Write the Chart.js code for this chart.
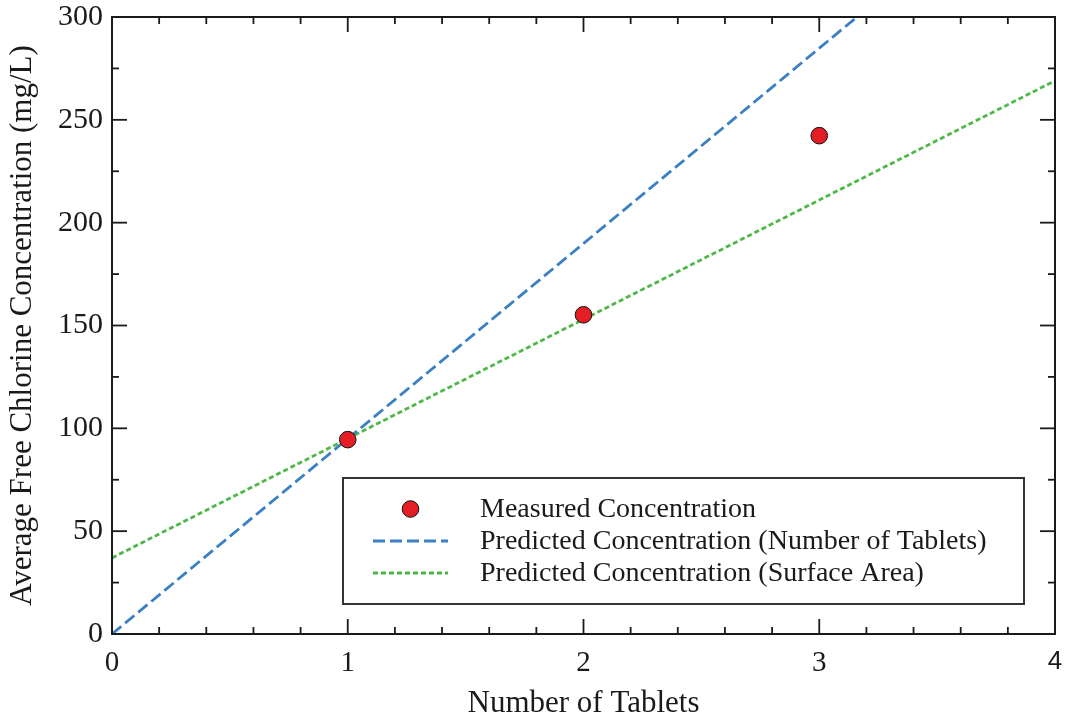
<!DOCTYPE html>
<html>
<head>
<meta charset="utf-8">
<script src="https://cdn.jsdelivr.net/npm/chart.js@4/dist/chart.umd.min.js"></script>
<style>
  html, body { margin: 0; padding: 0; background: #fff; }
  #wrap { width: 1065px; height: 717px; }
  canvas { display: block; background: #fff; }
</style>
</head>
<body>
<div id="wrap"><canvas id="c" width="1065" height="717"></canvas></div>
<script>
// Measured chlorine levels per number of tablets
const tabletCounts = [1, 2, 3];
const measuredConc = [94.5, 155.2, 242.3];

// Model predictions (line end points)
const tabletModelX = [0, 3.16];
const tabletModelY = [0, 300];
const areaModelX = [0, 4];
const areaModelY = [37, 269];

// Axis ticks and labels
const xTickValues = [0, 1, 2, 3, 4];
const yTickValues = [0, 50, 100, 150, 200, 250, 300];
const seriesNames = [
  'Measured Concentration',
  'Predicted Concentration (Number of Tablets)',
  'Predicted Concentration (Surface Area)'
];
const xAxisTitle = 'Number of Tablets';
const yAxisTitle = 'Average Free Chlorine Concentration (mg/L)';

const SERIF = "'Liberation Serif', 'Times New Roman', serif";
const SANS = "'Liberation Sans', Arial, sans-serif";
const INK = '#1a1a1a';

Chart.defaults.font.family = SERIF;
Chart.defaults.color = INK;

const toPoints = (xs, ys) => xs.map((v, i) => ({ x: v, y: ys[i] }));

// Inward major/minor tick marks on all four sides plus the plot frame
const frameTicks = {
  id: 'frameTicks',
  afterDraw(chart) {
    const { ctx, chartArea: a, scales: { x, y } } = chart;
    const seg = (x1, y1, x2, y2) => { ctx.beginPath(); ctx.moveTo(x1, y1); ctx.lineTo(x2, y2); ctx.stroke(); };
    ctx.save();
    ctx.strokeStyle = INK;
    ctx.lineWidth = 1.8;
    const xMinor = 0.2, yMinor = 25;
    for (let i = 0; i * xMinor <= x.max + 1e-9; i++) {
      const px = x.getPixelForValue(i * xMinor);
      const len = i % 5 === 0 ? 15 : 7;
      seg(px, a.bottom, px, a.bottom - len);
      seg(px, a.top, px, a.top + len);
    }
    for (let i = 0; i * yMinor <= y.max + 1e-9; i++) {
      const py = y.getPixelForValue(i * yMinor);
      const len = i % 2 === 0 ? 15 : 7;
      seg(a.left, py, a.left + len, py);
      seg(a.right, py, a.right - len, py);
    }
    ctx.lineWidth = 2;
    ctx.strokeRect(a.left, a.top, a.right - a.left, a.bottom - a.top);
    ctx.restore();
  }
};

// Boxed legend inside the lower right of the plot
const boxedLegend = {
  id: 'boxedLegend',
  afterDraw(chart) {
    const { ctx, chartArea: a } = chart;
    const left = a.left + 231, top = a.top + 461;
    const w = 681, h = 126;
    ctx.save();
    ctx.fillStyle = '#fff';
    ctx.fillRect(left, top, w, h);
    ctx.strokeStyle = '#333';
    ctx.lineWidth = 2;
    ctx.strokeRect(left, top, w, h);
    const ds = chart.data.datasets;
    const rowY = [top + 31, top + 63, top + 95];
    const symX0 = left + 30, symX1 = left + 105, textX = left + 137;
    ds.forEach((d, i) => {
      const yy = rowY[i];
      if (d.type === 'scatter') {
        ctx.beginPath();
        ctx.arc((symX0 + symX1) / 2, yy, d.pointRadius, 0, Math.PI * 2);
        ctx.fillStyle = d.backgroundColor;
        ctx.fill();
        ctx.lineWidth = d.borderWidth;
        ctx.strokeStyle = d.borderColor;
        ctx.stroke();
      } else {
        ctx.beginPath();
        ctx.setLineDash(d.borderDash);
        ctx.lineWidth = d.borderWidth;
        ctx.strokeStyle = d.borderColor;
        ctx.moveTo(symX0, yy);
        ctx.lineTo(symX1, yy);
        ctx.stroke();
        ctx.setLineDash([]);
      }
      ctx.fillStyle = INK;
      ctx.font = '28px ' + SERIF;
      ctx.textAlign = 'left';
      ctx.textBaseline = 'middle';
      ctx.fillText(d.label, textX, yy + 1);
    });
    ctx.restore();
  }
};

new Chart(document.getElementById('c'), {
  data: {
    datasets: [
      {
        type: 'scatter',
        label: seriesNames[0],
        data: toPoints(tabletCounts, measuredConc),
        backgroundColor: '#e31e24',
        borderColor: '#111',
        borderWidth: 1,
        pointRadius: 8.3,
        pointHoverRadius: 8.3
      },
      {
        type: 'line',
        label: seriesNames[1],
        data: toPoints(tabletModelX, tabletModelY),
        borderColor: '#3a80c3',
        borderWidth: 2.8,
        borderDash: [12, 5],
        pointRadius: 0,
        fill: false,
        tension: 0
      },
      {
        type: 'line',
        label: seriesNames[2],
        data: toPoints(areaModelX, areaModelY),
        borderColor: '#4db848',
        borderWidth: 2.8,
        borderDash: [5, 3],
        pointRadius: 0,
        fill: false,
        tension: 0
      }
    ]
  },
  options: {
    responsive: false,
    animation: false,
    events: [],
    layout: { padding: { top: 17, right: 10, bottom: 0, left: 0 } },
    plugins: { legend: { display: false }, tooltip: { enabled: false } },
    scales: {
      x: {
        type: 'linear',
        min: 0, max: 4,
        grid: { display: false, drawTicks: false },
        border: { display: false },
        afterBuildTicks: s => { s.ticks = xTickValues.map(v => ({ value: v })); },
        afterFit: s => { s.height = 83; s.paddingLeft = 0; s.paddingRight = 0; },
        ticks: {
          color: INK,
          padding: 12,
          maxRotation: 0,
          callback: v => String(v),
          font: c => (c.tick && c.tick.value === 4)
            ? { family: SANS, size: 26 }
            : { family: SERIF, size: 29 }
        },
        title: {
          display: true,
          text: xAxisTitle,
          color: INK,
          font: { size: 31, lineHeight: 0.86 },
          padding: { top: 0, bottom: 0 }
        }
      },
      y: {
        type: 'linear',
        min: 0, max: 300,
        grid: { display: false, drawTicks: false },
        border: { display: false },
        afterBuildTicks: s => { s.ticks = yTickValues.map(v => ({ value: v })); },
        afterFit: s => { s.width = 112; s.paddingTop = 0; s.paddingBottom = 0; },
        ticks: {
          color: INK,
          padding: 9,
          callback: v => String(v),
          font: { size: 30 }
        },
        title: {
          display: true,
          text: yAxisTitle,
          color: INK,
          font: { size: 31, lineHeight: 0.86 },
          padding: { top: 10, bottom: 0 }
        }
      }
    }
  },
  plugins: [frameTicks, boxedLegend]
});
</script>
</body>
</html>
